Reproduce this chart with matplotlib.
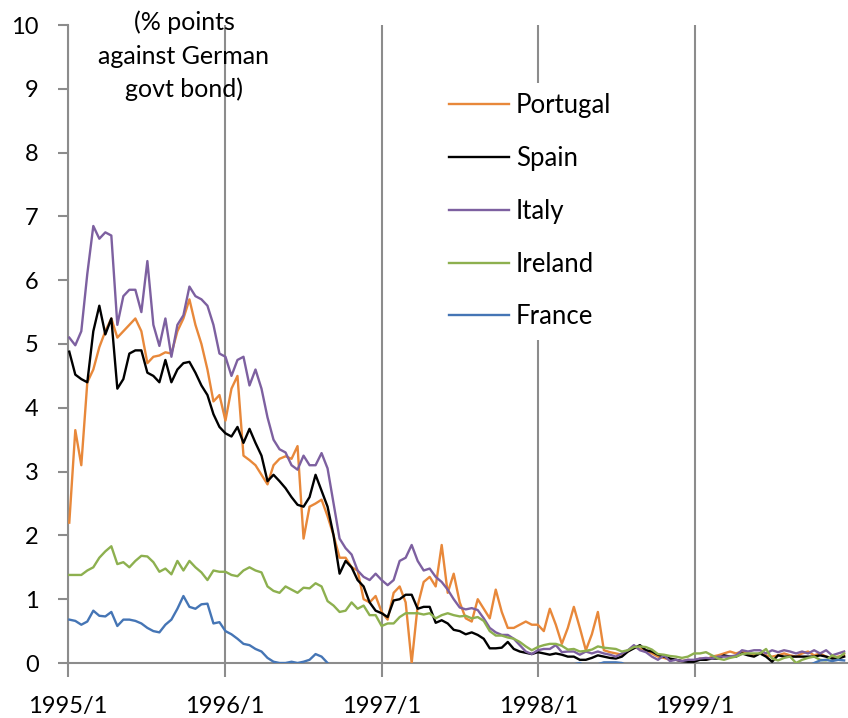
import pandas as pd
import numpy as np
import matplotlib
matplotlib.use("Agg")
import matplotlib.pyplot as plt

plt.rcParams["font.family"] = ["Lato", "DejaVu Sans"]

# fortnightly observations, spread in % points against German govt bond
dates = pd.date_range("1995-01-04", periods=130, freq="14D")

portugal = [
    2.2, 3.65, 3.1, 4.4, 4.6, 4.95, 5.2, 5.4, 5.1, 5.2, 5.3, 5.4, 5.2,
    4.7, 4.8, 4.82, 4.87, 4.85, 5.2, 5.4, 5.7, 5.3, 5.0, 4.6, 4.1, 4.2,
    3.8, 4.3, 4.5, 3.25, 3.18, 3.1, 2.95, 2.8, 3.1, 3.2, 3.24, 3.2, 3.4,
    1.95, 2.45, 2.5, 2.56, 2.3, 2.0, 1.65, 1.65, 1.5, 1.45, 1.0, 0.95, 1.05,
    0.8, 0.68, 1.1, 1.2, 0.95, 0.0, 0.9, 1.27, 1.35, 1.2, 1.85, 1.1, 1.4,
    0.95, 0.7, 0.65, 1.0, 0.85, 0.7, 1.15, 0.8, 0.55, 0.55, 0.6, 0.65, 0.6,
    0.6, 0.5, 0.85, 0.6, 0.3, 0.55, 0.88, 0.55, 0.2, 0.45, 0.8, 0.2, 0.17,
    0.15, 0.13, 0.18, 0.25, 0.22, 0.2, 0.15, 0.1, 0.08, 0.05, 0.05, 0.03, 0.05,
    0.03, 0.07, 0.05, 0.1, 0.12, 0.15, 0.18, 0.15, 0.18, 0.15, 0.12, 0.15, 0.12,
    0.1, 0.12, 0.15, 0.12, 0.1, 0.15, 0.18, 0.12, 0.15, 0.1, 0.08, 0.1, 0.12,
]

spain = [
    4.88, 4.52, 4.45, 4.4, 5.2, 5.6, 5.15, 5.4, 4.3, 4.45, 4.85, 4.9, 4.9,
    4.55, 4.5, 4.4, 4.75, 4.4, 4.6, 4.7, 4.72, 4.55, 4.35, 4.2, 3.9, 3.7,
    3.6, 3.55, 3.7, 3.45, 3.67, 3.45, 3.25, 2.85, 2.95, 2.85, 2.74, 2.6, 2.48,
    2.45, 2.6, 2.95, 2.7, 2.45, 2.0, 1.4, 1.6, 1.5, 1.3, 1.2, 0.95, 0.82,
    0.78, 0.72, 0.98, 1.0, 1.07, 1.07, 0.85, 0.88, 0.88, 0.63, 0.67, 0.62, 0.52,
    0.5, 0.45, 0.48, 0.44, 0.38, 0.23, 0.23, 0.24, 0.33, 0.22, 0.18, 0.16, 0.14,
    0.17, 0.15, 0.13, 0.15, 0.13, 0.1, 0.1, 0.05, 0.05, 0.08, 0.12, 0.1, 0.08,
    0.07, 0.1, 0.18, 0.23, 0.28, 0.2, 0.18, 0.13, 0.1, 0.07, 0.05, 0.03, 0.02,
    0.02, 0.05, 0.05, 0.07, 0.07, 0.12, 0.1, 0.1, 0.15, 0.12, 0.1, 0.15, 0.1,
    0.02, 0.12, 0.1, 0.1, 0.1, 0.1, 0.1, 0.1, 0.12, 0.1, 0.07, 0.07, 0.1,
]

italy = [
    5.1, 4.98, 5.2, 6.1, 6.85, 6.65, 6.75, 6.7, 5.3, 5.75, 5.85, 5.85, 5.5,
    6.3, 5.3, 4.97, 5.4, 4.8, 5.3, 5.45, 5.9, 5.75, 5.7, 5.6, 5.3, 4.85,
    4.8, 4.5, 4.75, 4.8, 4.35, 4.6, 4.3, 3.85, 3.5, 3.35, 3.3, 3.1, 3.03,
    3.25, 3.1, 3.1, 3.29, 3.05, 2.5, 1.95, 1.8, 1.7, 1.45, 1.35, 1.3, 1.4,
    1.3, 1.22, 1.3, 1.6, 1.65, 1.85, 1.6, 1.45, 1.48, 1.35, 1.27, 1.15, 1.0,
    0.87, 0.84, 0.86, 0.83, 0.7, 0.55, 0.48, 0.44, 0.44, 0.38, 0.28, 0.18, 0.14,
    0.2, 0.22, 0.22, 0.28, 0.17, 0.18, 0.18, 0.13, 0.18, 0.15, 0.18, 0.15, 0.13,
    0.1, 0.15, 0.2, 0.28, 0.2, 0.17, 0.1, 0.05, 0.12, 0.03, 0.05, 0.03, 0.05,
    0.05, 0.07, 0.08, 0.07, 0.1, 0.1, 0.1, 0.12, 0.2, 0.18, 0.2, 0.2, 0.15,
    0.2, 0.17, 0.2, 0.18, 0.15, 0.18, 0.15, 0.2, 0.15, 0.2, 0.12, 0.15, 0.18,
]

ireland = [
    1.38, 1.38, 1.38, 1.45, 1.5, 1.65, 1.75, 1.83, 1.55, 1.58, 1.5, 1.6, 1.68,
    1.67, 1.58, 1.43, 1.48, 1.39, 1.6, 1.45, 1.6, 1.5, 1.42, 1.3, 1.45, 1.43,
    1.43, 1.38, 1.36, 1.45, 1.5, 1.45, 1.42, 1.2, 1.13, 1.1, 1.2, 1.15, 1.1,
    1.18, 1.17, 1.25, 1.2, 0.97, 0.9, 0.8, 0.82, 0.95, 0.85, 0.9, 0.75, 0.75,
    0.58, 0.62, 0.62, 0.72, 0.78, 0.78, 0.78, 0.76, 0.78, 0.7, 0.75, 0.78, 0.75,
    0.73, 0.74, 0.7, 0.72, 0.66, 0.5, 0.43, 0.43, 0.4, 0.38, 0.33, 0.26, 0.2,
    0.25, 0.28, 0.3, 0.3, 0.27, 0.21, 0.22, 0.18, 0.19, 0.21, 0.26, 0.24, 0.23,
    0.22, 0.18, 0.2, 0.25, 0.26, 0.25, 0.21, 0.14, 0.13, 0.11, 0.1, 0.08, 0.1,
    0.15, 0.15, 0.17, 0.12, 0.07, 0.05, 0.08, 0.1, 0.14, 0.15, 0.15, 0.15, 0.22,
    0.07, 0.04, 0.08, 0.1, 0.0, 0.05, 0.08, 0.1, 0.05, 0.04, 0.12, 0.08, 0.15,
]

# France dips below zero from mid-1996 (hidden under the axis)
france = [
    0.68, 0.66, 0.6, 0.65, 0.82, 0.74, 0.73, 0.8, 0.58, 0.68, 0.68, 0.66, 0.62,
    0.55, 0.5, 0.48, 0.6, 0.68, 0.85, 1.05, 0.88, 0.85, 0.92, 0.93, 0.62, 0.64,
    0.5, 0.45, 0.38, 0.3, 0.28, 0.22, 0.18, 0.08, 0.02, 0.0, 0.0, 0.02, 0.0,
    0.02, 0.05, 0.14, 0.1, 0.0, -0.1, -0.15, -0.15, -0.2, -0.2, -0.2, -0.2, -0.2,
    -0.2, -0.2, -0.2, -0.2, -0.2, -0.2, -0.2, -0.2, -0.2, -0.2, -0.2, -0.2, -0.2,
    -0.2, -0.2, -0.2, -0.2, -0.2, -0.2, -0.2, -0.2, -0.2, -0.2, -0.2, -0.2, -0.2,
    -0.1, -0.1, -0.1, -0.1, -0.1, -0.1, -0.02, 0.0, -0.05, -0.05, -0.02, 0.01, 0.01,
    0.01, 0.0, -0.05, -0.1, -0.1, -0.1, -0.1, -0.1, -0.1, -0.1, -0.1, -0.1, -0.1,
    -0.1, -0.1, -0.1, -0.1, -0.1, -0.1, -0.1, -0.1, -0.1, -0.1, -0.1, -0.1, -0.1,
    -0.1, -0.1, -0.1, -0.1, -0.1, -0.1, -0.05, 0.0, 0.04, 0.05, 0.03, 0.05, 0.04,
]

names = ["Portugal", "Spain", "Italy", "Ireland", "France"]
colors = ["#E8883A", "#000000", "#7D60A0", "#8DB04F", "#4575B5"]
tick_labels = ["1995/1", "1996/1", "1997/1", "1998/1", "1999/1"]
title_lines = ["(% points", "against German", "govt bond)"]

grey = "#8C8C8C"

fig = plt.figure(figsize=(8.48, 7.18), dpi=100)
ax = fig.add_axes([68 / 848, 55 / 718, 780 / 848, 638 / 718])

for name, vals, col in zip(names, [portugal, spain, italy, ireland, france], colors):
    ax.plot(dates, vals, color=col, lw=1.7, label=name, zorder=3)

ax.set_ylim(0, 10)
ax.set_yticks(range(11))
ax.set_xlim(pd.Timestamp("1995-01-01"), pd.Timestamp("1999-12-24"))
ax.set_xticks([pd.Timestamp(t.replace("/", "-") + "-01") for t in tick_labels])
ax.set_xticklabels(tick_labels)

ax.grid(axis="x", color=grey, lw=1.5)
for side in ["top", "right"]:
    ax.spines[side].set_visible(False)
for side in ["left", "bottom"]:
    ax.spines[side].set_color(grey)
    ax.spines[side].set_linewidth(1.5)

ax.tick_params(axis="x", length=10, width=1.5, color=grey, pad=14, labelsize=17)
ax.tick_params(axis="y", length=7, width=1.5, color=grey, pad=14, labelsize=17)

for i, line in enumerate(title_lines):
    fig.text(184 / 848, 1 - (30 + 33.5 * i) / 718, line, ha="center", va="baseline", fontsize=18)

ax.legend(loc="upper left", bbox_to_anchor=(439 / 848, 1 - 83 / 718),
          bbox_transform=fig.transFigure, borderaxespad=0, frameon=True,
          fancybox=False, framealpha=1, edgecolor="none", facecolor="white",
          fontsize=18.5, handlelength=2.32, handletextpad=0.27, labelspacing=1.08,
          borderpad=0.4)

fig.savefig("out.png", dpi=100)
